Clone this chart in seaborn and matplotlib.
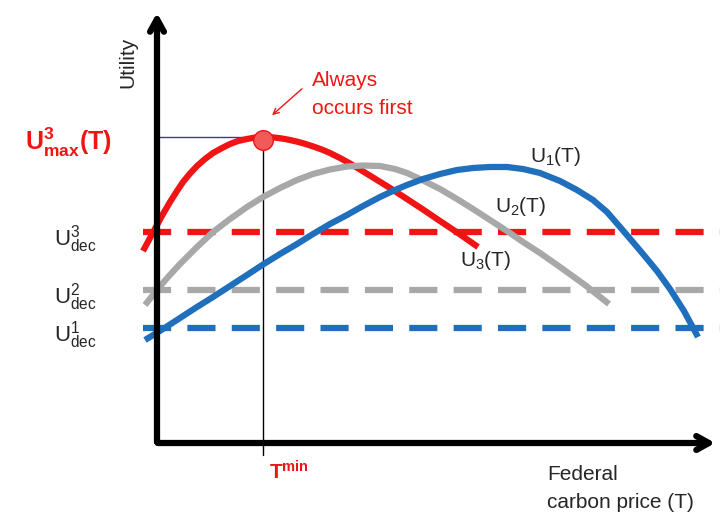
import pandas as pd
import numpy as np
import matplotlib
matplotlib.use("Agg")
import matplotlib.pyplot as plt
import seaborn as sns

# curve points (pixel coords, y downward)
u3_x = [143, 150, 157, 163, 170, 177, 183, 190, 197, 205, 213, 222, 230, 238, 247, 255, 263, 272,
        280, 288, 297, 305, 313, 322, 330, 340, 350, 360, 373, 390, 407, 423, 440, 458, 478]
u3_y = [251, 238, 225, 214, 202, 191, 182, 173.5, 166, 159, 153, 148, 144, 141, 139, 137.5, 137, 137.3,
        138.2, 139.6, 141.6, 143.8, 146.4, 149.6, 153, 158, 163.5, 169.5, 177.5, 188, 199, 209.5, 221, 233, 247]

u2_x = [145, 157, 168, 180, 197, 213, 230, 247, 263, 280, 297, 313, 330, 347, 363, 380, 395, 407,
        420, 440, 457, 473, 490, 507, 523, 540, 560, 585, 609]
u2_y = [305, 290, 277, 264, 247, 232, 219, 207, 197, 188, 180, 174, 169.5, 166.5, 165.5, 166, 169, 173,
        179, 189, 199, 209, 220, 231, 242, 253, 267, 285, 304]

u1_x = [145, 163, 180, 197, 213, 230, 247, 263, 280, 297, 313, 330, 347, 363, 380, 395, 407, 423,
        440, 457, 473, 490, 507, 523, 540, 560, 577, 593, 607, 620, 632, 643, 657, 670, 684, 698]
u1_y = [340, 329, 318, 307, 297, 286, 275, 264.5, 254, 244, 234, 224, 215, 206, 197, 190, 185, 179,
        174, 170, 168, 167, 167, 169, 173, 181, 190, 200, 212, 227, 241, 254, 271, 289, 311, 337]

dec_levels = [232, 290, 328]  # U3dec, U2dec, U1dec
dec_labels = [r"$\mathrm{U^3_{dec}}$", r"$\mathrm{U^2_{dec}}$", r"$\mathrm{U^1_{dec}}$"]
curve_labels = [r"$\mathrm{U_1(T)}$", r"$\mathrm{U_2(T)}$", r"$\mathrm{U_3(T)}$"]
t_min = 263
u3_max = 137

RED = "#f01414"
GRAY = "#a8a8a8"
BLUE = "#1f6fbd"

sns.set_style("white")
plt.rcParams["font.family"] = ["Liberation Sans", "DejaVu Sans"]
plt.rcParams["mathtext.fontset"] = "custom"
plt.rcParams["mathtext.rm"] = "Liberation Sans"
plt.rcParams["mathtext.bf"] = "Liberation Sans:bold"

df = pd.concat([
    pd.DataFrame({"x": u3_x, "y": u3_y, "curve": "U3"}),
    pd.DataFrame({"x": u2_x, "y": u2_y, "curve": "U2"}),
    pd.DataFrame({"x": u1_x, "y": u1_y, "curve": "U1"}),
])

fig = plt.figure(figsize=(7.2, 5.17), dpi=100)
ax = fig.add_axes([0, 0, 1, 1])
ax.set_xlim(0, 720)
ax.set_ylim(517, 0)
ax.axis("off")

# dashed decision levels
for lvl, c in zip(dec_levels, [RED, GRAY, BLUE]):
    ax.plot([143, 720], [lvl, lvl], color=c, lw=4.5, dashes=(4.5, 2.6), zorder=2)

sns.lineplot(data=df, x="x", y="y", hue="curve", sort=False, estimator=None,
             palette={"U3": RED, "U2": GRAY, "U1": BLUE}, lw=4.5, legend=False, ax=ax, zorder=3,
             solid_joinstyle="round", solid_capstyle="butt")

# axes arrows
ax.annotate("", xy=(157, 10), xytext=(157, 445),
            arrowprops=dict(arrowstyle="->, head_length=0.9, head_width=0.5", lw=4.5, color="black"))
ax.annotate("", xy=(718, 443), xytext=(155, 443),
            arrowprops=dict(arrowstyle="->, head_length=0.9, head_width=0.5", lw=4.5, color="black"))

# T_min guide and max point
ax.plot([t_min, t_min], [u3_max, 455], color="black", lw=1, zorder=1)
ax.plot([155, t_min], [u3_max, u3_max], color="#3c3c8c", lw=1, zorder=1)
ax.scatter([t_min], [u3_max + 3], s=200, color="#f25a5a", edgecolor=RED, lw=1, zorder=5)

ax.annotate("", xy=(270, 117), xytext=(304, 87),
            arrowprops=dict(arrowstyle="->", lw=1, color=RED))
ax.text(312, 80, "Always", color=RED, fontsize=15, va="center")
ax.text(312, 108, "occurs first", color=RED, fontsize=15, va="center")

ax.text(128, 62, "Utility", rotation=90, fontsize=15, ha="center", va="center")
ax.text(112, 142, r"$\mathbf{U^3_{max}(T)}$", color=RED, fontsize=18, ha="right", va="center")
ax.text(269, 472, r"$\mathbf{T^{min}}$", color=RED, fontsize=15, ha="left", va="center")
ax.text(547, 475, "Federal", fontsize=15, va="center")
ax.text(547, 503, "carbon price (T)", fontsize=15, va="center")

for lvl, lab in zip(dec_levels, dec_labels):
    ax.text(54, lvl + 7, lab, fontsize=16, ha="left", va="center")

for (tx, ty), lab in zip([(530, 157), (495, 206), (460, 260)], curve_labels):
    ax.text(tx, ty, lab, fontsize=15, ha="left", va="center")

fig.savefig("out.png", dpi=100)
